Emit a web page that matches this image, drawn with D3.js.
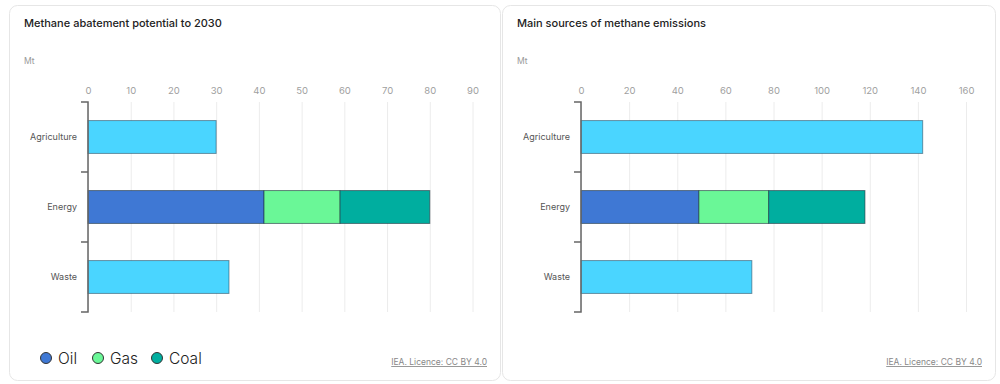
<!DOCTYPE html>
<html>
<head>
<meta charset="utf-8">
<script src="https://cdn.jsdelivr.net/npm/d3@7"></script>
<style>
  body { margin: 0; background: #fff; font-family: Inter, "Noto Sans", sans-serif; }
  svg { display: block; }
</style>
</head>
<body>
<script>
// Data
const categories = ['Agriculture', 'Energy', 'Waste'];
const fuels = ['Oil', 'Gas', 'Coal'];

// Methane abatement potential to 2030 (Mt)
const abatementSector = [30, null, 33];
const abatementEnergy = [41.2, 17.8, 21.0]; // Oil, Gas, Coal
const abatementTicks = [0, 10, 20, 30, 40, 50, 60, 70, 80, 90];

// Main sources of methane emissions (Mt)
const emissionsSector = [142, null, 71];
const emissionsEnergy = [49, 29, 40]; // Oil, Gas, Coal
const emissionsTicks = [0, 20, 40, 60, 80, 100, 120, 140, 160];

const sectorColor = '#4AD5FF';
const fuelColor = { Oil: '#3F78D4', Gas: '#6AF797', Coal: '#00AE9F' };

const width = 1000, height = 384;
const svg = d3.select('body').append('svg')
  .attr('width', width)
  .attr('height', height);

function drawPanel(p) {
  const g = svg.append('g');

  // card
  g.append('rect')
    .attr('x', p.cardX + 0.5).attr('y', 5.5)
    .attr('width', p.cardW).attr('height', 375)
    .attr('rx', 8)
    .attr('fill', '#fff')
    .attr('stroke', '#e6e6e6');

  g.append('text')
    .attr('x', p.cardX + 15).attr('y', 27)
    .attr('font-size', 11).attr('font-weight', 500)
    .attr('fill', '#222')
    .text(p.title);

  g.append('text')
    .attr('x', p.cardX + 15).attr('y', 64)
    .attr('font-size', 8.5)
    .attr('fill', '#999')
    .text('Mt');

  const x = d3.scaleLinear()
    .domain([0, p.ticks[p.ticks.length - 1]])
    .range([p.x0, p.x1]);

  const y = d3.scaleBand()
    .domain(categories)
    .range([102, 312])
    .paddingInner(0.53)
    .paddingOuter(0.265);

  // top axis with gridlines
  const xAxis = d3.axisTop(x)
    .tickValues(p.ticks)
    .tickSize(-210)
    .tickPadding(8);

  const ax = g.append('g')
    .attr('transform', 'translate(0,102)')
    .call(xAxis);
  ax.select('.domain').remove();
  ax.selectAll('.tick line').attr('stroke', '#ececec');
  ax.selectAll('.tick text')
    .attr('fill', '#a0a0a0')
    .attr('font-size', 9.5)
    .attr('font-family', 'Inter, "Noto Sans", sans-serif');

  // bars for single-sector rows
  const single = categories
    .map((c, i) => ({ cat: c, value: p.sector[i] }))
    .filter(d => d.value != null);

  g.selectAll('.sector')
    .data(single)
    .enter().append('rect')
    .attr('x', x(0))
    .attr('y', d => y(d.cat))
    .attr('width', d => x(d.value) - x(0))
    .attr('height', y.bandwidth())
    .attr('fill', sectorColor)
    .attr('stroke', 'rgba(40,70,90,0.55)')
    .attr('stroke-width', 1);

  // stacked energy row
  const row = { cat: 'Energy' };
  fuels.forEach((f, i) => row[f] = p.energy[i]);
  const stacked = d3.stack().keys(fuels)([row]);

  g.selectAll('.fuel')
    .data(stacked)
    .enter().append('rect')
    .attr('x', d => x(d[0][0]))
    .attr('y', y('Energy'))
    .attr('width', d => x(d[0][1]) - x(d[0][0]))
    .attr('height', y.bandwidth())
    .attr('fill', d => fuelColor[d.key])
    .attr('stroke', 'rgba(30,50,60,0.6)')
    .attr('stroke-width', 1);

  // left category axis: ticks at band boundaries
  const bounds = categories.map(c => y(c) - y.step() * y.paddingInner() / 2);
  const top = 102, bottom = 312, ax0 = x(0);
  g.append('path')
    .attr('d', `M${ax0 - 7},${top} H${ax0} V${bottom} H${ax0 - 7}`)
    .attr('fill', 'none')
    .attr('stroke', '#666')
    .attr('stroke-width', 1.5);
  g.selectAll('.ytick')
    .data(bounds.slice(1))
    .enter().append('line')
    .attr('x1', ax0 - 7).attr('x2', ax0)
    .attr('y1', d => d).attr('y2', d => d)
    .attr('stroke', '#666')
    .attr('stroke-width', 1.5);

  g.selectAll('.ylabel')
    .data(categories)
    .enter().append('text')
    .attr('x', ax0 - 11)
    .attr('y', d => y(d) + y.bandwidth() / 2)
    .attr('dy', '0.35em')
    .attr('text-anchor', 'end')
    .attr('font-size', 9)
    .attr('fill', '#555')
    .text(d => d);

  // source
  g.append('text')
    .attr('x', p.cardX + p.cardW - 13).attr('y', 365)
    .attr('text-anchor', 'end')
    .attr('font-size', 8.5)
    .attr('fill', '#888')
    .attr('text-decoration', 'underline')
    .text('IEA. Licence: CC BY 4.0');

  return g;
}

const left = drawPanel({
  cardX: 9, cardW: 491,
  title: 'Methane abatement potential to 2030',
  x0: 88, x1: 472.5,
  ticks: abatementTicks,
  sector: abatementSector,
  energy: abatementEnergy
});

drawPanel({
  cardX: 502, cardW: 493,
  title: 'Main sources of methane emissions',
  x0: 581, x1: 966,
  ticks: emissionsTicks,
  sector: emissionsSector,
  energy: emissionsEnergy
});

// legend (left panel)
const legend = left.selectAll('.legend')
  .data(fuels)
  .enter().append('g')
  .attr('transform', (d, i) => `translate(${[46, 98, 157][i]},358)`);

legend.append('circle')
  .attr('r', 5.5)
  .attr('fill', d => fuelColor[d])
  .attr('stroke', '#333')
  .attr('stroke-width', 1);

legend.append('text')
  .attr('x', 12)
  .attr('y', 1)
  .attr('dy', '0.35em')
  .attr('font-size', 15.5)
  .attr('font-weight', 300)
  .attr('fill', '#222')
  .text(d => d);
</script>
</body>
</html>
